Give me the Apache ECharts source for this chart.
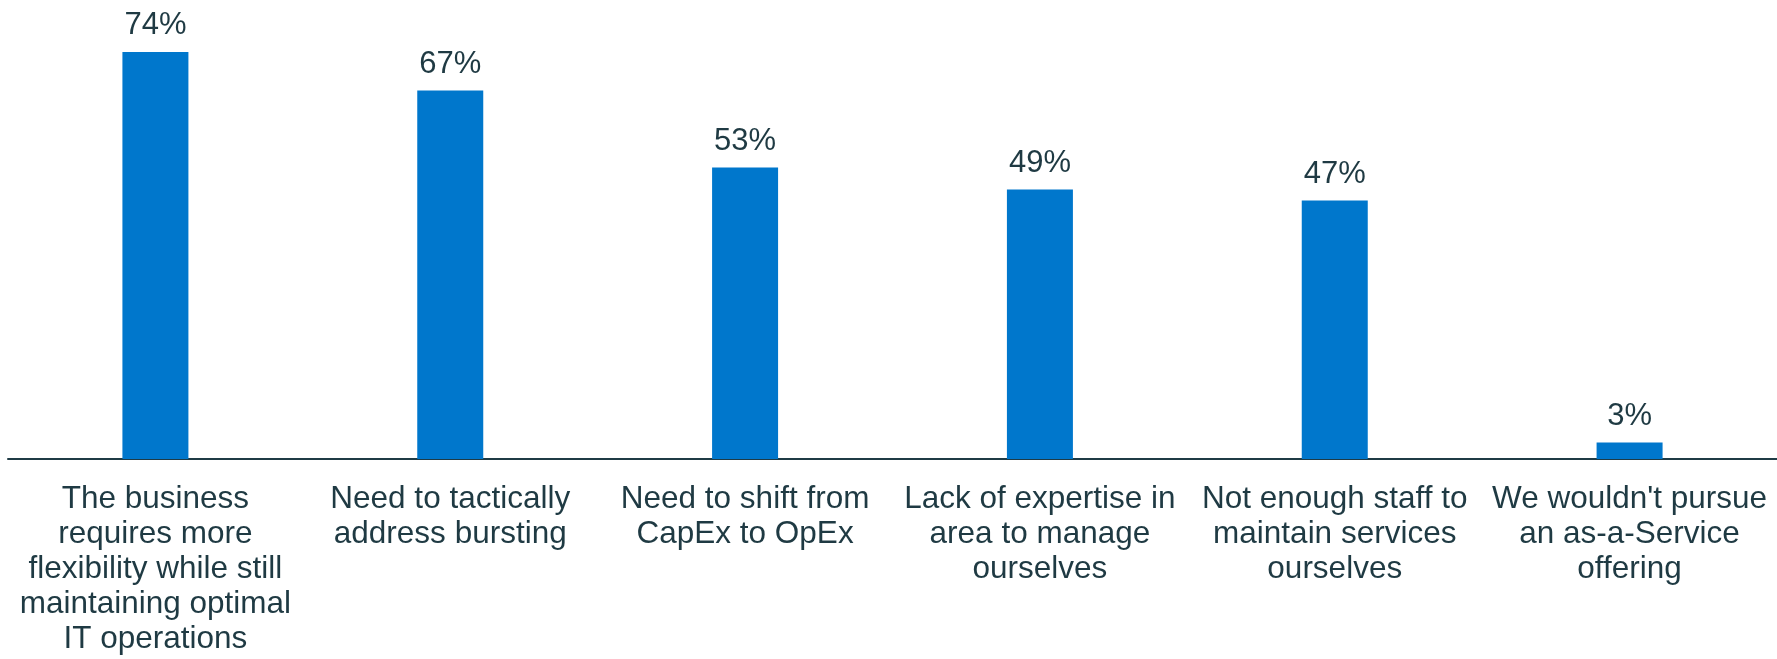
<!DOCTYPE html>
<html>
<head>
<meta charset="utf-8">
<script src="https://cdn.jsdelivr.net/npm/echarts@6/dist/echarts.min.js"></script>
<style>
html,body{margin:0;padding:0;background:#fff;}
#chart{width:1777px;height:659px;}
</style>
</head>
<body>
<div id="chart"></div>
<script>
const categories = [
  "The business\nrequires more\nflexibility while still\nmaintaining optimal\nIT operations",
  "Need to tactically\naddress bursting",
  "Need to shift from\nCapEx to OpEx",
  "Lack of expertise in\narea to manage\nourselves",
  "Not enough staff to\nmaintain services\nourselves",
  "We wouldn't pursue\nan as-a-Service\noffering"
];
const values = [74, 67, 53, 49, 47, 3];

const chart = echarts.init(document.getElementById('chart'), null, {renderer: 'canvas'});
chart.setOption({
  animation: false,
  grid: {left: 8, width: 1773, top: 19, bottom: 200, containLabel: false},
  xAxis: {
    type: 'category',
    data: categories,
    axisLine: {show: true, lineStyle: {color: '#1f3b45', width: 2}},
    axisTick: {show: false},
    axisLabel: {
      interval: 0,
      margin: 23,
      color: '#1f3a43',
      fontFamily: 'Liberation Sans, Arial, sans-serif',
      fontSize: 31.5,
      lineHeight: 35,
      align: 'center',
      verticalAlign: 'top'
    }
  },
  yAxis: {
    type: 'value',
    min: 0,
    max: 80,
    show: false,
    splitLine: {show: false}
  },
  series: [{
    type: 'bar',
    data: values,
    barWidth: 66,
    itemStyle: {color: '#0077cc'},
    label: {
      show: true,
      position: 'top',
      distance: 11,
      formatter: '{c}%',
      color: '#1f3a43',
      fontFamily: 'Liberation Sans, Arial, sans-serif',
      fontSize: 31
    }
  }]
});
</script>
</body>
</html>
